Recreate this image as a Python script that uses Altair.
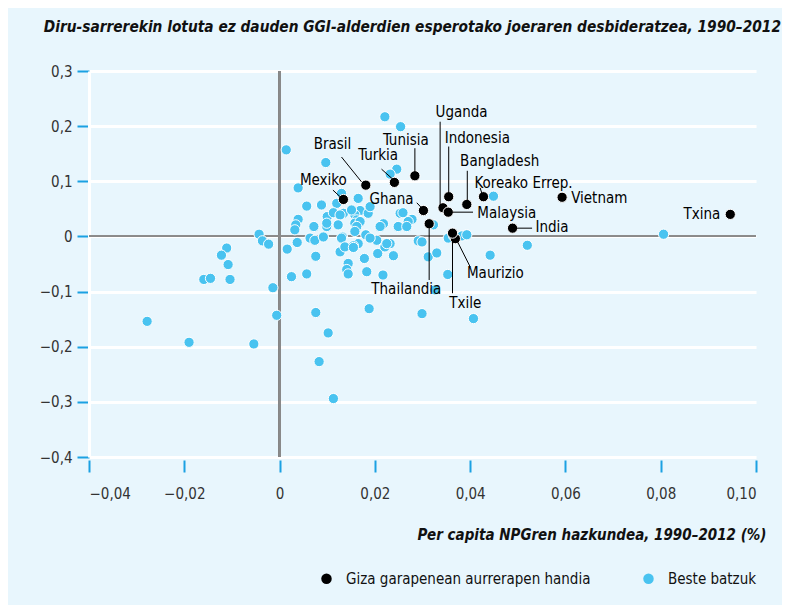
import altair as alt
import pandas as pd

# ---------------- data ----------------
blue_x = [0.0014, 0.0097, 0.0039, 0.0057, 0.0088, 0.0100, 0.0072, 0.0099, 0.0039, 0.0034,
          0.0032, -0.0043, -0.0036, -0.0023, 0.0016, 0.0037, 0.0064, 0.0074, 0.0092, 0.0076,
          -0.0111, -0.0122, -0.0108, -0.0159, -0.0145, -0.0104, 0.0025, 0.0057, -0.0014, -0.0278,
          -0.0190, -0.0054, -0.0006, 0.0076, 0.0102, 0.0083, 0.0113, 0.0188, 0.0127, 0.0144,
          0.0141, 0.0144, 0.0178, 0.0183, 0.0206, 0.0165, 0.0181, 0.0132, 0.0155, 0.0221,
          0.0254, 0.0246, 0.0232, 0.0130, 0.0165, 0.0449, 0.0169, 0.0186, 0.0190, 0.0158,
          0.0162, 0.0158, 0.0120, 0.0113, 0.0134, 0.0253, 0.0218, 0.0249, 0.0278, 0.0323,
          0.0204, 0.0232, 0.0221, 0.0291, 0.0312, 0.0330, 0.0354, 0.0365, 0.0383, 0.0393,
          0.0353, 0.0326, 0.0442, 0.0520, 0.0299, 0.0407, 0.0239, 0.0217, 0.0127, 0.0123,
          0.0151, 0.0169, 0.0162, 0.0158, 0.0211, 0.0270, 0.0130, 0.0137, 0.0155, 0.0190,
          0.0225, 0.0259, 0.0267, 0.0299, 0.0806, 0.0099]
blue_y = [0.157, 0.134, 0.088, 0.055, 0.057, 0.036, 0.018, 0.018, 0.031, 0.021,
          0.012, 0.004, -0.008, -0.014, -0.023, -0.011, -0.003, -0.007, -0.001, -0.036,
          -0.021, -0.034, -0.051, -0.078, -0.076, -0.078, -0.073, -0.068, -0.093, -0.154,
          -0.192, -0.195, -0.143, -0.138, -0.175, -0.227, -0.294, -0.131, -0.028, -0.049,
          -0.060, -0.068, -0.040, -0.064, -0.031, -0.013, 0.003, -0.001, -0.017, 0.217,
          0.199, 0.122, 0.113, 0.078, 0.069, 0.073, 0.047, 0.042, 0.054, 0.039,
          0.030, 0.024, 0.060, 0.043, 0.042, 0.042, 0.023, 0.018, 0.031, 0.021,
          -0.007, -0.013, -0.019, -0.008, -0.037, -0.030, -0.003, 0.001, 0.001, 0.003,
          -0.069, -0.097, -0.034, -0.016, -0.140, -0.149, -0.035, -0.070, 0.039, 0.021,
          0.048, 0.027, 0.018, 0.009, 0.018, 0.027, -0.003, -0.019, -0.020, -0.003,
          -0.013, 0.043, 0.018, -0.010, 0.004, 0.024]

hi_names = ["Mexiko", "Brasil", "Turkia", "Tunisia", "Ghana", "Thailandia", "Uganda",
            "Indonesia", "Malaysia", "Bangladesh", "Koreako Errep.", "Vietnam", "India",
            "Maurizio", "Txile", "Txina"]
hi_x = [0.0134, 0.0181, 0.0241, 0.0284, 0.0302, 0.0314, 0.0343, 0.0355, 0.0354, 0.0393,
        0.0428, 0.0593, 0.0489, 0.0369, 0.0363, 0.0946]
hi_y = [0.067, 0.093, 0.098, 0.110, 0.047, 0.023, 0.052, 0.072, 0.044, 0.058,
        0.072, 0.071, 0.015, -0.004, 0.006, 0.040]

# annotation layout (label anchors and leader lines, data units)
lab_x = [0.0092, 0.0111, 0.0207, 0.0265, 0.0235, 0.0266, 0.0382, 0.0415, 0.0415, 0.0462,
         0.0512, 0.0612, 0.0537, 0.0453, 0.0390, 0.0925]
lab_y = [0.102, 0.168, 0.148, 0.175, 0.067, -0.096, 0.225, 0.178, 0.042, 0.136,
         0.097, 0.070, 0.018, -0.067, -0.121, 0.040]
lab_align = ["center", "center", "center", "center", "center", "center", "center",
             "center", "left", "center", "center", "left", "left",
             "center", "center", "right"]

lead_x1 = [0.0112, 0.0130, 0.0214, 0.0284, 0.0288, 0.0314, 0.0337, 0.0355, 0.0358, 0.0394, 0.0421, 0.0491, 0.0372, 0.0363]
lead_y1 = [0.084, 0.144, 0.122, 0.160, 0.061, 0.023, 0.208, 0.163, 0.044, 0.119, 0.088, 0.015, -0.007, -0.007]
lead_x2 = [0.0127, 0.0172, 0.0236, 0.0284, 0.0299, 0.0314, 0.0337, 0.0355, 0.0406, 0.0394, 0.0425, 0.0530, 0.0400, 0.0363]
lead_y2 = [0.072, 0.099, 0.105, 0.117, 0.051, -0.079, 0.057, 0.078, 0.044, 0.063, 0.077, 0.015, -0.055, -0.103]

x_ticks = [-0.04, -0.02, 0.0, 0.02, 0.04, 0.06, 0.08, 0.10]
y_ticks = [-0.4, -0.3, -0.2, -0.1, 0.0, 0.1, 0.2, 0.3]

CAT_HI = "Giza garapenean aurrerapen handia"
CAT_OTHER = "Beste batzuk"

# ---------------- styling ----------------
BG = "#E8F6FD"
BLUE = "#49C3F0"
TICK_BLUE = "#1BA1E2"
FONT = "DejaVu Sans Condensed, DejaVu Sans, sans-serif"

pts = pd.concat([
    pd.DataFrame({"x": blue_x, "y": blue_y, "grp": CAT_OTHER, "ord": 0}),
    pd.DataFrame({"x": hi_x, "y": hi_y, "grp": CAT_HI, "ord": 1}),
], ignore_index=True)

labels = pd.DataFrame({"name": hi_names, "lx": lab_x, "ly": lab_y, "al": lab_align})
leaders = pd.DataFrame({"x1": lead_x1, "y1": lead_y1, "x2": lead_x2, "y2": lead_y2})

xscale = alt.Scale(domain=[-0.04, 0.10], nice=False, zero=False)
yscale = alt.Scale(domain=[-0.4, 0.3], nice=False, zero=False)

x_axis = alt.Axis(
    values=x_ticks, grid=False, domain=False,
    labelExpr="datum.value == 0 ? '0' : replace(format(datum.value, '.2f'), '.', ',')",
    tickColor=TICK_BLUE, tickSize=12, tickWidth=2, offset=3, labelPadding=14,
    labelFont=FONT, labelFontSize=15, labelColor="#333333",
    title="Per capita NPGren hazkundea, 1990–2012 (%)",
    titleFont=FONT, titleFontSize=15, titleFontStyle="italic", titleFontWeight="bold",
    titleColor="#111111", titleAlign="right", titleAnchor="end", titleX=677, titleY=67,
    titleBaseline="top",
)
y_axis = alt.Axis(
    values=y_ticks, grid=True, gridColor="white", gridWidth=3, gridOpacity=1,
    domain=True, domainColor="white", domainWidth=3,
    labelExpr="datum.value == 0 ? '0' : replace(format(datum.value, '.1f'), '.', ',')",
    tickColor=TICK_BLUE, tickSize=12, tickWidth=2, labelPadding=5,
    labelFont=FONT, labelFontSize=15, labelColor="#333333", title=None,
)

base_x = alt.X("x:Q", scale=xscale, axis=x_axis)
base_y = alt.Y("y:Q", scale=yscale, axis=y_axis)

zero_v = alt.Chart(pts).mark_rule(color="#8a8a8a", strokeWidth=1.3).encode(x=alt.datum(0))
zero_h = alt.Chart(pts).mark_rule(color="#8a8a8a", strokeWidth=1.3).encode(y=alt.datum(0))

points = alt.Chart(pts).mark_point(filled=True, size=105, stroke="white", strokeWidth=1, opacity=1).encode(
    x=base_x, y=base_y,
    color=alt.Color("grp:N", scale=alt.Scale(domain=[CAT_HI, CAT_OTHER], range=["#000000", BLUE]),
                    legend=alt.Legend(title=None, orient="none", direction="horizontal",
                                      legendX=230, legendY=500, symbolType="circle",
                                      symbolSize=110, symbolStrokeWidth=0, labelFont=FONT,
                                      labelFontSize=15, labelColor="#111111", labelOffset=12,
                                      labelLimit=400, columnPadding=50)),
    order=alt.Order("ord:Q"),
)

lead = alt.Chart(leaders).mark_rule(color="black", strokeWidth=1).encode(
    x=alt.X("x1:Q", scale=xscale), y=alt.Y("y1:Q", scale=yscale),
    x2="x2:Q", y2="y2:Q")

def txt(al):
    return alt.Chart(labels).transform_filter(alt.datum.al == al).mark_text(
        align=al, baseline="middle", font=FONT, fontSize=15, color="black").encode(
        x=alt.X("lx:Q", scale=xscale), y=alt.Y("ly:Q", scale=yscale), text="name:N")

chart = alt.layer(zero_v, zero_h, points, lead, txt("center"), txt("left"), txt("right")).properties(
    width=667, height=386,
    title=alt.TitleParams(
        "Diru-sarrerekin lotuta ez dauden GGI-alderdien esperotako joeraren desbideratzea, 1990–2012",
        anchor="end", frame="group", dx=25, offset=29, font=FONT, fontSize=15.3,
        fontStyle="italic", fontWeight="bold", color="#111111"),
    autosize=alt.AutoSizeParams(type="none"),
    padding={"left": 81, "top": 63, "right": 26, "bottom": 148},
).configure(background=BG).configure_view(stroke=None, fill=BG)

chart.save("out.html", embed_options={"renderer": "svg", "actions": False})
